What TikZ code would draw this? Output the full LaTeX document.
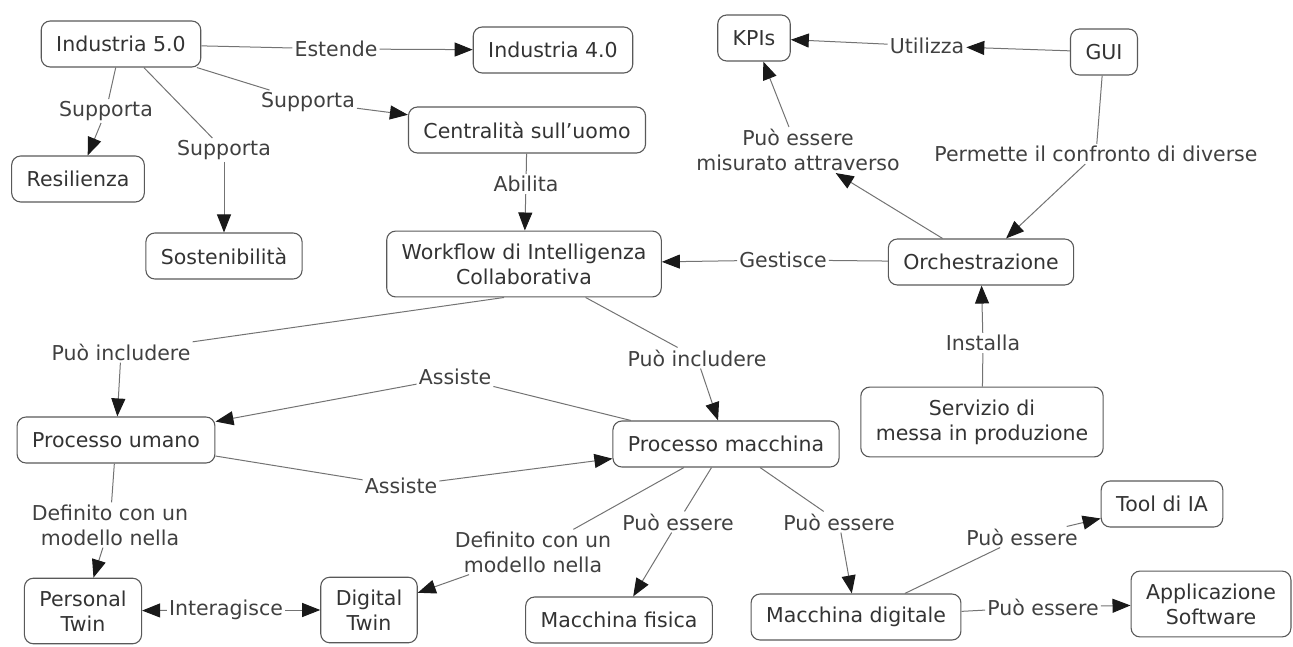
\documentclass[tikz,border=0pt]{standalone}
\usepackage{fontspec}
\setmainfont{DejaVu Sans}
\usetikzlibrary{arrows.meta}

\begin{document}
\begin{tikzpicture}[x=1pt,y=-1pt,
  concept/.style={draw=black!65,line width=1.1pt,rounded corners=9pt,text=black!80,
    font=\fontsize{20.5}{25}\selectfont,inner xsep=15pt,inner ysep=12.5pt,
    minimum height=46pt,align=center},
  link/.style={text=black!75,font=\fontsize{20.5}{25}\selectfont,inner sep=2pt,align=center},
  line/.style={draw=black!55,line width=1pt},
  arr/.style={line,-{Triangle[length=18pt,width=14pt,color=black!90]}}]
\useasboundingbox (0,0) rectangle (1293,647);
\node[concept] (ind5) at (121,44) {Industria 5.0};
\node[concept] (ind4) at (553,50) {Industria 4.0};
\node[concept] (res) at (78,179) {Resilienza};
\node[concept] (sost) at (224,256) {Sostenibilità};
\node[concept] (centr) at (527,130) {Centralità sull'uomo};
\node[concept] (wf) at (524,264) {Workflow di Intelligenza\\Collaborativa};
\node[concept] (kpi) at (754,38) {KPIs};
\node[concept] (gui) at (1104,52) {GUI};
\node[concept] (orch) at (981,262) {Orchestrazione};
\node[concept] (serv) at (982,422) {Servizio di\\messa in produzione};
\node[concept] (pu) at (116,440) {Processo umano};
\node[concept] (pm) at (726,444) {Processo macchina};
\node[concept] (pt) at (83,611) {Personal\\Twin};
\node[concept] (dt) at (369,610) {Digital\\Twin};
\node[concept] (mf) at (619,620) {Macchina fisica};
\node[concept] (md) at (856,617) {Macchina digitale};
\node[concept] (tool) at (1162,504) {Tool di IA};
\node[concept] (app) at (1211,604) {Applicazione\\Software};

\node[link] (est) at (336,49) {Estende};
\node[link] (sup1) at (106,111) {Supporta};
\node[link] (sup2) at (224,150) {Supporta};
\node[link] (sup3) at (308,102) {Supporta};
\node[link] (abil) at (526,184) {Abilita};
\node[link] (util) at (927,46) {Utilizza};
\node[link] (mis) at (798,150) {Può essere\\misurato attraverso};
\node[link] (perm) at (1096,154) {Permette il confronto di diverse};
\node[link] (gest) at (783,260) {Gestisce};
\node[link] (inst) at (983,343) {Installa};
\node[link] (inc1) at (121,352) {Può includere};
\node[link] (inc2) at (697,358) {Può includere};
\node[link] (ass1) at (455,377) {Assiste};
\node[link] (ass2) at (401,486) {Assiste};
\node[link] (def1) at (110,525) {Definito con un\\modello nella};
\node[link] (def2) at (533,552) {Definito con un\\modello nella};
\node[link] (pe1) at (678,522) {Può essere};
\node[link] (pe2) at (839,522) {Può essere};
\node[link] (pe3) at (1022,537) {Può essere};
\node[link] (pe4) at (1043,607) {Può essere};
\node[link] (inter) at (226,610) {Interagisce};

\draw[line] (ind5) -- (est);
\draw[arr] (est) -- (ind4);
\draw[line] (ind5) -- (sup1);
\draw[arr] (sup1) -- (res);
\draw[line] (ind5) -- (sup2);
\draw[arr] (sup2) -- (sost);
\draw[line] (ind5) -- (sup3);
\draw[arr] (sup3) -- (centr);
\draw[line] (centr) -- (abil);
\draw[arr] (abil) -- (wf);
\draw[arr] (gui) -- (util);
\draw[arr] (util) -- (kpi);
\draw[arr] (orch) -- (mis);
\draw[arr] (mis) -- (kpi);
\draw[line] (gui) -- (perm);
\draw[arr] (perm) -- (orch);
\draw[line] (orch) -- (gest);
\draw[arr] (gest) -- (wf);
\draw[line] (serv) -- (inst);
\draw[arr] (inst) -- (orch);
\draw[line] ([xshift=-20pt]wf.south) -- (inc1);
\draw[arr] (inc1) -- (pu);
\draw[line] (wf) -- (inc2);
\draw[arr] (inc2) -- (pm);
\draw[line] (pm) -- (ass1);
\draw[arr] (ass1) -- (pu);
\draw[line] (pu) -- (ass2);
\draw[arr] (ass2) -- (pm);
\draw[line] (pu) -- (def1);
\draw[arr] (def1) -- (pt);
\draw[line] (pm) -- (def2);
\draw[arr] (def2) -- (dt);
\draw[line] (pm) -- (pe1);
\draw[arr] (pe1) -- (mf);
\draw[line] (pm) -- (pe2);
\draw[arr] (pe2) -- (md);
\draw[line] (md) -- (pe3);
\draw[arr] (pe3) -- (tool);
\draw[line] (md) -- (pe4);
\draw[arr] (pe4) -- (app);
\draw[arr] (inter) -- (pt);
\draw[arr] (inter) -- (dt);
\end{tikzpicture}
\end{document}
